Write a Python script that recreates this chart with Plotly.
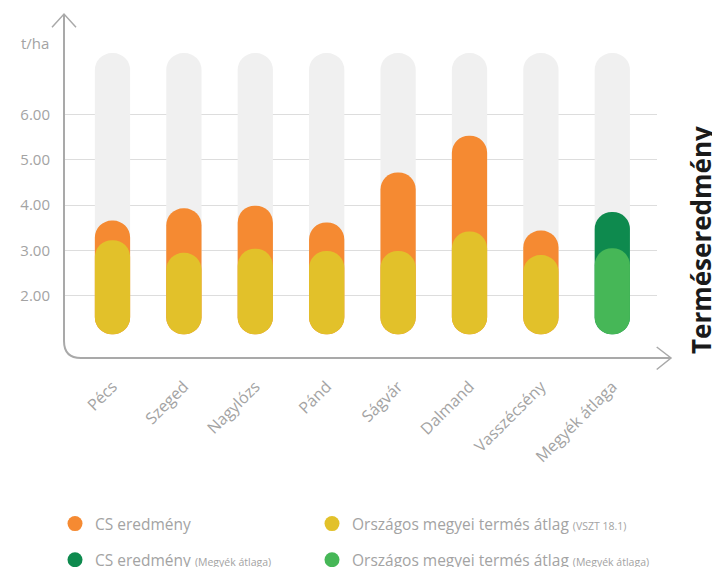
import plotly.graph_objects as go

# ---- data ----
categories = ["Pécs", "Szeged", "Nagylózs", "Pánd", "Ságvár", "Dalmand", "Vasszécsény", "Megyék átlaga"]
cs_eredmeny = [3.66, 3.93, 3.99, 3.62, 4.72, 5.53, 3.44, 3.85]
orszagos_atlag = [3.23, 2.95, 3.04, 2.99, 2.99, 3.42, 2.90, 3.05]
track_max = [7.35] * len(categories)
y_ticks = [2, 3, 4, 5, 6]
y_ticktext = ["2.00", "3.00", "4.00", "5.00", "6.00"]

# ---- style ----
OFF = 8                      # page body margin of the html page
W, H = 720 - OFF, 567 - OFF
PL, PR, PT, PB = 64, 657, 14, 358   # plot area in window pixels
L, R, T, B = PL - OFF, W - (PR - OFF), PT - OFF, H - (PB - OFF)
PW, PH = PR - PL, PB - PT
ORANGE = "#F58A32"
YELLOW = "#E2C12A"
DGREEN = "#0E8A4E"
LGREEN = "#46B757"
TRACK = "#F0F0F0"
GRID = "#DDDDDD"
AXIS = "#A9A9A9"
TXT = "#A3A3A3"
FONT = "Open Sans"
BOTTOM = 1.156   # lower end of the pills
BAR_W = 0.494

def px(x, y):
    """window pixel -> paper coords"""
    return (x - PL) / PW, (PB - y) / PH

def cx(x):
    return (x - OFF) / W

def cy(y):
    return 1 - (y - OFF) / H

n = len(categories)
front_cs = [ORANGE] * (n - 1) + [DGREEN]
front_avg = [YELLOW] * (n - 1) + [LGREEN]

fig = go.Figure()
for vals, cols, hov in [(track_max, TRACK, "skip"), (cs_eredmeny, front_cs, None), (orszagos_atlag, front_avg, None)]:
    fig.add_trace(go.Bar(x=categories, y=[v - BOTTOM for v in vals], base=BOTTOM, width=BAR_W,
                         marker=dict(color=cols, cornerradius="50%", line_width=0),
                         showlegend=False, hoverinfo=hov))

small = "<span style='font-size:10.5px'>%s</span>"
legend_items = [
    ("CS eredmény", ORANGE, "legend", "a"),
    ("CS eredmény " + small % "(Megyék átlaga)", DGREEN, "legend", "b"),
    ("Országos megyei termés átlag " + small % "(VSZT 18.1)", YELLOW, "legend2", "c"),
    ("Országos megyei termés átlag " + small % "(Megyék átlaga)", LGREEN, "legend2", "d"),
]
for name, col, lg, grp in legend_items:
    fig.add_trace(go.Scatter(x=[None], y=[None], mode="markers", name=name,
                             marker=dict(size=15, color=col), legend=lg, legendgroup=grp))

leg_common = dict(xanchor="left", yanchor="top", xref="container", yref="container",
                  orientation="v", tracegroupgap=13, font=dict(size=15.5, color=TXT),
                  bgcolor="rgba(0,0,0,0)")
fig.update_layout(
    width=W, height=H,
    margin=dict(l=L, r=R, t=T, b=B, autoexpand=False),
    paper_bgcolor="white", plot_bgcolor="white",
    barmode="overlay",
    font=dict(family=FONT, color=TXT),
    xaxis=dict(range=[-0.679, 7.626], showgrid=False, zeroline=False, showline=False, automargin=False,
               tickangle=-45, tickfont=dict(size=16, color=TXT), ticks="outside", ticklen=12,
               tickcolor="rgba(0,0,0,0)", fixedrange=True),
    yaxis=dict(range=[0.634, 8.211], tickvals=y_ticks, ticktext=y_ticktext, showgrid=True, automargin=False,
               gridcolor=GRID, gridwidth=1, zeroline=False, showline=False,
               tickfont=dict(size=15, color=TXT), ticks="outside", ticklen=10, tickcolor="rgba(0,0,0,0)"),
    legend=dict(x=cx(55), y=cy(507), **leg_common),
    legend2=dict(x=cx(312), y=cy(507), **leg_common),
    showlegend=True,
)

# axes with rounded corner and arrows
x0, yb = px(64, 358)
x_c, y_c = px(81, 341)
x_top, y_top = px(64, 14)
x_tip, _ = px(671, 358)
path = f"M {x0},{y_top} L {x0},{y_c} Q {x0},{yb} {x_c},{yb} L {x_tip},{yb}"
fig.add_shape(type="path", path=path, xref="paper", yref="paper", line=dict(color=AXIS, width=2))
a1 = px(52, 27.3); a2 = px(76, 27.3)
fig.add_shape(type="path", path=f"M {a1[0]},{a1[1]} L {x_top},{y_top} L {a2[0]},{a2[1]}",
              xref="paper", yref="paper", line=dict(color=AXIS, width=1.5))
b1 = px(656.7, 347); b2 = px(656.7, 369.5)
fig.add_shape(type="path", path=f"M {b1[0]},{b1[1]} L {x_tip},{yb} L {b2[0]},{b2[1]}",
              xref="paper", yref="paper", line=dict(color=AXIS, width=1.5))

tx, ty = px(51, 43)
fig.add_annotation(text="t/ha", x=tx, y=ty, xref="paper", yref="paper", xanchor="right",
                   yanchor="middle", showarrow=False, font=dict(size=15, color=TXT))
rx, ry = px(701, 240)
fig.add_annotation(text="<b>Terméseredmény</b>", x=rx, y=ry, xref="paper", yref="paper",
                   xanchor="center", yanchor="middle", textangle=-90, showarrow=False,
                   font=dict(size=26, color="#1A1A1A", family=FONT))

fig.write_html("out.html")
